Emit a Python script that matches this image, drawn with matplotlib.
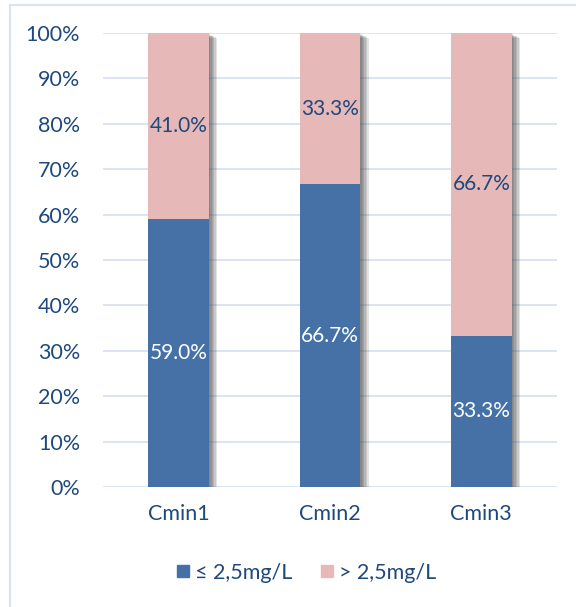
import matplotlib.pyplot as plt
from matplotlib import patheffects as pe
from matplotlib.lines import Line2D
import numpy as np

plt.rcParams['font.family'] = ['Lato', 'DejaVu Sans']

categories = ['Cmin1', 'Cmin2', 'Cmin3']
low = [59.0, 66.7, 33.3]     # <= 2,5 mg/L
high = [41.0, 33.3, 66.7]    # > 2,5 mg/L
series_names = ['\u2264 2,5mg/L', '> 2,5mg/L']
yticks = [0, 10, 20, 30, 40, 50, 60, 70, 80, 90, 100]

blue = '#4571a7'
pink = '#e6b8b7'
text_col = '#1f497d'
grid_col = '#d9e2f1'

fig = plt.figure(figsize=(5.76, 6.07), dpi=100)
ax = fig.add_axes([103 / 576, 1 - 487 / 607, 454 / 576, 454 / 607])

x = np.arange(len(categories))
w = 0.4
total = np.array(low) + np.array(high)

# soft drop shadow behind each full stack
soft = [pe.SimplePatchShadow(offset=(d, -d * 0.6), shadow_rgbFace='#404040', alpha=0.15)
        for d in (1, 2, 3, 4, 5, 6)]
ax.bar(x, total, w, color='none', zorder=2, path_effects=soft)

ax.bar(x, low, w, color=blue, zorder=3)
ax.bar(x, high, w, bottom=low, color=pink, zorder=3)

for i in range(len(categories)):
    ax.text(x[i], low[i] / 2, f'{low[i]:.1f}%', ha='center', va='center',
            color='white', fontsize=15, zorder=5)
    ax.text(x[i], low[i] + high[i] / 2, f'{high[i]:.1f}%', ha='center', va='center',
            color=text_col, fontsize=15, zorder=5)

ax.set_xlim(-0.5, 2.5)
ax.set_ylim(0, 100)
ax.set_yticks(yticks)
ax.set_yticklabels([f'{t}%' for t in yticks])
ax.set_xticks(x)
ax.set_xticklabels(categories)
ax.tick_params(length=0, labelsize=15.5, colors=text_col)
ax.tick_params(axis='y', pad=16.5)
ax.tick_params(axis='x', pad=12)
ax.grid(axis='y', color=grid_col, linewidth=1.3, zorder=0)
for s in ax.spines.values():
    s.set_visible(False)

handles = [Line2D([], [], marker='s', linestyle='', markersize=9, color=c) for c in (blue, pink)]
fig.legend(handles, series_names, loc='center', bbox_to_anchor=(304 / 576, 1 - 573 / 607),
           ncol=2, frameon=False, fontsize=15.5, labelcolor=text_col,
           handletextpad=0.05, columnspacing=1.1, handlelength=1.0)

# light frame along the top and left edges
fig.add_artist(Line2D([10 / 576, 10 / 576], [0, 1 - 5 / 607], color=grid_col, linewidth=1.5))
fig.add_artist(Line2D([10 / 576, 1], [1 - 5 / 607, 1 - 5 / 607], color=grid_col, linewidth=1.5))

fig.savefig('out.png', dpi=100)
